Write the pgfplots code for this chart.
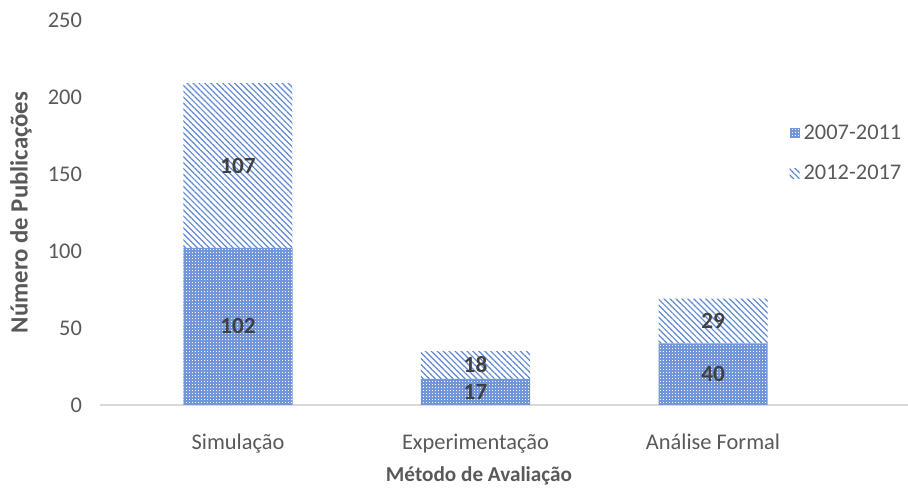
\documentclass[border=0pt]{standalone}
\usepackage{pgfplots}
\pgfplotsset{compat=1.18}
\usepackage{pgfplotstable}
\usepackage{fontspec}
\setmainfont{Carlito}
\usetikzlibrary{patterns.meta}
\definecolor{tick}{HTML}{595959}
\definecolor{lab}{HTML}{404040}
\definecolor{barblue}{HTML}{7396DA}
\definecolor{lineblue}{HTML}{6088D2}
\definecolor{baseline}{HTML}{D9D9D9}
\tikzdeclarepattern{name=whitedots, type=uncolored,
  bounding box={(0pt,0pt) and (1.5pt,1.5pt)},
  tile size={(1.5pt,1.5pt)},
  code={\fill (0pt,0pt) rectangle (0.5pt,0.5pt);}}

\pgfplotstableread{
x a b
0 102 107
1 17 18
2 40 29
}\data

\newcommand{\chartfont}{\fontsize{11.2}{13}\selectfont}

\begin{document}
\begin{tikzpicture}
\useasboundingbox (-50pt,-42.5pt) rectangle (404pt,202.5pt);
\begin{axis}[
  at={(0pt,0pt)}, anchor=south west,
  scale only axis, width=404pt, height=192.5pt,
  xmin=-0.581, xmax=2.821, ymin=0, ymax=250,
  ybar stacked, bar width=0.459,
  xtick={0,1,2}, xticklabels={Simulação,Experimentação,Análise Formal},
  ytick={0,50,...,250},
  axis x line*=bottom, axis y line*=left,
  y axis line style={draw=none},
  x axis line style={draw=baseline, line width=0.8pt, -},
  major tick length=0pt,
  tick label style={font=\chartfont, text=tick},
  /pgf/number format/assume math mode=true,
  yticklabel style={xshift=-5.5pt},
  xticklabel style={yshift=-11pt},
  xlabel={Método de Avaliação}, ylabel={Número de Publicações},
  label style={text=tick},
  x label style={at={(axis description cs:0.469,-0.1766)}, anchor=center, yshift=-1.5pt,
    font=\fontsize{10.6}{12}\selectfont\bfseries},
  y label style={at={(axis description cs:-0.0978,0.5)}, anchor=center,
    font=\fontsize{12.4}{14}\selectfont\bfseries},
  legend style={at={(axis description cs:0.853,0.74)}, anchor=north west,
    draw=none, fill=none, font=\chartfont, text=tick, row sep=7.5pt,
    inner sep=0pt},
  legend cell align=left,
  legend image code/.code={\fill[#1] (0pt,-2.5pt) rectangle (5pt,2.5pt);},
]
\addplot[draw=none, preaction={fill=barblue}, pattern=whitedots, pattern color=white,
  nodes near coords, point meta=explicit,
  every node near coord/.append style={anchor=center,
    font=\fontsize{11.6}{13}\selectfont\bfseries, text=lab}]
  table[x=x, y=a, meta=a] {\data};
\addplot[draw=none, pattern={Lines[angle=-45,distance=2.1pt,line width=0.6pt]},
  pattern color=lineblue,
  nodes near coords, point meta=explicit,
  every node near coord/.append style={anchor=center,
    font=\fontsize{11.6}{13}\selectfont\bfseries, text=lab}]
  table[x=x, y=b, meta=b] {\data};
\legend{2007-2011, 2012-2017}
\end{axis}
\end{tikzpicture}
\end{document}
